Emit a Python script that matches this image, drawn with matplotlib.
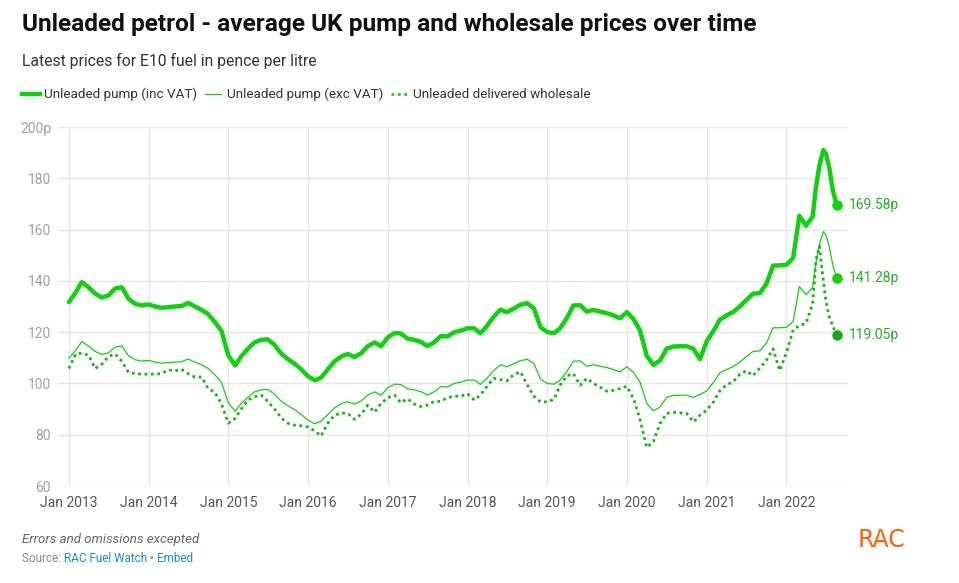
import matplotlib.pyplot as plt
import pandas as pd

plt.rcParams['font.family'] = ['Roboto', 'DejaVu Sans']

# monthly points Jan 2013 - May 2022, then a few extra points for summer 2022
dates = list(pd.date_range('2013-01-01', '2022-05-01', freq='MS')) + [
    pd.Timestamp(d) for d in ['2022-05-16', '2022-06-01', '2022-06-19',
                              '2022-07-01', '2022-07-16', '2022-08-01', '2022-08-19']]

pump_inc = [131.7, 135.5, 139.5, 137.5, 135.0, 133.5, 134.3, 137.0, 137.5, 133.0, 131.0, 130.4,
            130.8, 130.0, 129.5, 129.7, 130.0, 130.2, 131.4, 130.0, 128.7, 127.0, 123.9, 120.5,
            111.0, 107.0, 110.5, 113.5, 116.0, 117.0, 117.2, 115.0, 111.6, 109.5, 107.7, 105.5,
            102.8, 101.2, 102.2, 105.5, 108.5, 110.5, 111.5, 110.3, 111.8, 114.5, 116.0, 114.5,
            118.0, 119.6, 119.5, 117.5, 117.0, 116.2, 114.6, 116.0, 118.5, 118.3, 120.0, 120.6,
            121.5, 121.5, 119.5, 122.5, 126.0, 128.8, 127.8, 129.2, 130.7, 131.3, 129.3, 122.0,
            120.0, 119.6, 121.5, 125.5, 130.4, 130.5, 128.0, 128.7, 128.0, 127.4, 126.5, 125.4,
            127.8, 125.0, 120.7, 110.8, 107.2, 109.0, 113.5, 114.4, 114.5, 114.5, 113.5, 109.5,
            116.5, 120.5, 124.8, 126.5, 127.8, 130.0, 132.5, 135.0, 135.2, 138.8, 146.0, 146.0,
            146.3, 149.0, 165.4, 161.5, 165.0,
            176.4, 185.0, 191.0, 189.5, 184.2, 175.5, 169.58]

pump_exc = [109.8, 112.9, 116.3, 114.6, 112.5, 111.3, 111.9, 114.2, 114.6, 110.8, 109.2, 108.7,
            109.0, 108.3, 107.9, 108.1, 108.3, 108.5, 109.5, 108.3, 107.3, 105.8, 103.3, 100.4,
            92.5, 89.2, 92.1, 94.6, 96.7, 97.5, 97.7, 95.8, 93.0, 91.3, 89.8, 87.9,
            85.7, 84.3, 85.2, 87.9, 90.4, 92.1, 92.9, 91.9, 93.2, 95.4, 96.7, 95.4,
            98.3, 99.7, 99.6, 97.9, 97.5, 96.8, 95.5, 96.7, 98.8, 98.6, 100.0, 100.5,
            101.3, 101.3, 99.6, 102.1, 105.0, 107.3, 106.5, 107.7, 108.9, 109.4, 107.8, 101.7,
            100.0, 99.7, 101.3, 104.6, 108.7, 108.8, 106.7, 107.3, 106.7, 106.2, 105.4, 104.5,
            106.5, 104.2, 100.6, 92.3, 89.3, 90.8, 94.6, 95.3, 95.4, 95.4, 94.6, 95.7,
            97.1, 100.4, 104.0, 105.4, 106.5, 108.3, 110.4, 112.5, 112.7, 115.7, 121.7, 121.7,
            121.9, 124.2, 137.8, 134.6, 137.5,
            147.0, 154.2, 159.2, 157.9, 153.5, 146.3, 141.28]

wholesale = [105.8, 111.5, 111.8, 111.0, 105.8, 107.5, 110.5, 111.5, 108.5, 104.3, 103.8, 103.6,
             103.6, 103.7, 103.8, 105.3, 104.9, 105.5, 103.8, 102.5, 102.5, 98.0, 96.5, 92.0,
             84.5, 86.3, 90.0, 93.5, 94.8, 95.4, 93.0, 90.0, 86.5, 84.5, 83.7, 83.5,
             83.0, 81.5, 79.5, 84.5, 87.5, 88.5, 88.3, 86.0, 88.0, 91.5, 88.8, 92.2,
             94.5, 95.4, 92.5, 94.0, 92.0, 91.0, 91.5, 93.0, 93.0, 94.5, 95.0, 95.0,
             96.0, 93.5, 95.5, 99.0, 102.0, 101.5, 101.0, 103.5, 104.5, 99.5, 95.0, 92.8,
             92.8, 93.8, 99.3, 103.0, 103.8, 99.3, 102.0, 100.0, 98.5, 97.0, 97.3, 98.0,
             98.9, 94.0, 86.0, 75.0, 77.2, 84.4, 88.3, 88.7, 88.5, 88.3, 85.0, 87.6,
             89.6, 92.8, 97.0, 99.5, 100.6, 103.5, 105.0, 103.0, 106.0, 109.0, 113.5, 105.0,
             112.0, 121.0, 122.5, 123.5, 131.0,
             148.0, 153.5, 140.0, 132.0, 126.0, 122.5, 119.05]

series_names = ['Unleaded pump (inc VAT)', 'Unleaded pump (exc VAT)', 'Unleaded delivered wholesale']
end_labels = ['169.58p', '141.28p', '119.05p']
yticks = [60, 80, 100, 120, 140, 160, 180, 200]
ytick_labels = ['60', '80', '100', '120', '140', '160', '180', '200p']
xtick_years = list(range(2013, 2023))

green = '#0fd20f'
label_green = '#22b022'
grey_txt = '#a0a0a0'

fig = plt.figure(figsize=(9.59, 5.83), dpi=100)
ax = fig.add_axes([58 / 959, 1 - 486 / 583, 790 / 959, 359 / 583])

ax.plot(dates, pump_inc, color=green, lw=3.2, solid_capstyle='round', zorder=4)
ax.plot(dates, pump_exc, color=green, lw=0.9, zorder=3)
ax.plot(dates, wholesale, color='#11b811', lw=2.0, linestyle=(0, (1, 1.3)), zorder=3)

ends = [pump_inc[-1], pump_exc[-1], wholesale[-1]]
dot_cols = [green, green, '#11a811']
for v, lab, c in zip(ends, end_labels, dot_cols):
    ax.plot([dates[-1]], [v], 'o', color=c, ms=6.5, zorder=5, clip_on=False)
    ax.annotate(lab, (dates[-1], v), xytext=(9, 0), textcoords='offset points',
                va='center', ha='left', fontsize=10, color=label_green)

ax.set_ylim(60, 200)
ax.set_xlim(pd.Timestamp('2012-11-12'), pd.Timestamp('2022-10-10'))
ax.set_yticks(yticks)
ax.set_yticklabels(ytick_labels)
xt = [pd.Timestamp(f'{y}-01-01') for y in xtick_years]
ax.set_xticks(xt)
ax.set_xticklabels([f'Jan {y}' for y in xtick_years])
ax.tick_params(axis='both', length=0, labelsize=10, labelcolor=grey_txt)
ax.tick_params(axis='y', pad=5)
ax.tick_params(axis='x', pad=7, labelcolor='#555555')
ax.grid(True, color='#e6e6e6', lw=1)
ax.set_axisbelow(True)
for s in ax.spines.values():
    s.set_visible(False)

fig.text(22 / 959, 1 - 25 / 583, 'Unleaded petrol - average UK pump and wholesale prices over time',
         fontsize=17.6, fontweight='bold', color='#111111', va='center')
fig.text(22 / 959, 1 - 61 / 583, 'Latest prices for E10 fuel in pence per litre',
         fontsize=11.3, color='#333333', va='center')

# legend row
leg_y = 1 - 94 / 583
leg = [(22, 40, 3.2, '-', 44), (205, 221, 0.9, '-', 227), (391, 409, 2.0, (0, (1, 1.3)), 413)]
for (x0, x1, lw, ls, tx), name in zip(leg, series_names):
    fig.add_artist(plt.Line2D([x0 / 959, x1 / 959], [leg_y, leg_y], color=green, lw=lw, ls=ls))
    fig.text(tx / 959, leg_y, name, fontsize=9.7, color='#333333', va='center')

fig.text(22 / 959, 1 - 539 / 583, 'Errors and omissions excepted', fontsize=9.5,
         style='italic', color='#666666', va='center')
t = fig.text(22 / 959, 1 - 559 / 583, 'Source: ', fontsize=8.5, color='#888888', va='center')
fig.canvas.draw()
r = fig.canvas.get_renderer()
x = t.get_window_extent(r).x1
for part, col in [('RAC Fuel Watch', '#1a8ad0'), (' \u2022 ', '#888888'), ('Embed', '#1a8ad0')]:
    tt = fig.text(x / fig.bbox.width, 1 - 559 / 583, part, fontsize=8.5, color=col, va='center')
    x = tt.get_window_extent(r).x1

fig.text(881 / 959, 1 - 540 / 583, 'RAC', fontsize=17, color='#ff5f00', ha='center', va='center',
         family='DejaVu Sans')

fig.savefig('out.png', dpi=100)
